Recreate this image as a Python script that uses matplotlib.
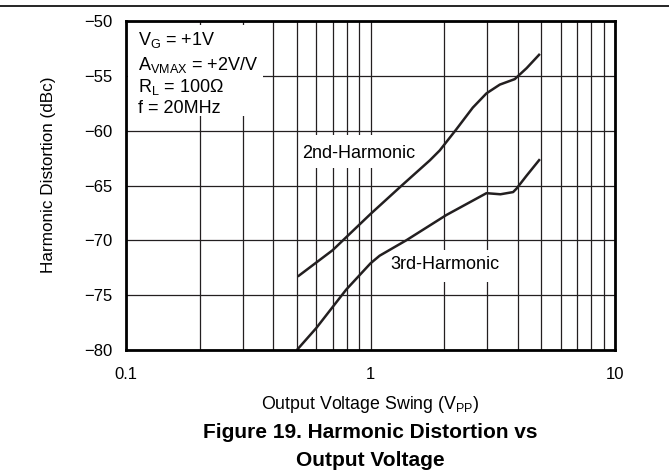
import numpy as np
import matplotlib
matplotlib.use("Agg")
import matplotlib.pyplot as plt
from matplotlib.lines import Line2D
from matplotlib.patches import Rectangle

plt.rcParams['font.family'] = ['Liberation Sans', 'DejaVu Sans']
plt.rcParams['mathtext.fontset'] = 'custom'
plt.rcParams['mathtext.rm'] = 'Liberation Sans'
plt.rcParams['mathtext.it'] = 'Liberation Sans'

# valores
vpp_2nd = [0.504, 0.70, 1.0, 1.35, 1.75, 1.92, 2.24, 2.62, 2.98, 3.38, 3.89, 4.35, 4.93]
hd_2nd = [-73.3, -70.9, -67.6, -64.95, -62.7, -61.8, -59.9, -57.9, -56.6, -55.8, -55.3, -54.3, -53.0]

vpp_3rd = [0.5, 0.6, 0.795, 1.0, 1.09, 1.40, 2.04, 2.98, 3.4, 3.83, 3.95, 4.35, 4.93]
hd_3rd = [-80.0, -78.0, -74.5, -72.1, -71.4, -70.0, -67.7, -65.7, -65.8, -65.6, -65.3, -64.1, -62.6]

xticks = [0.1, 1, 10]
xticklabels = ['0.1', '1', '10']
yticks = [-80, -75, -70, -65, -60, -55, -50]

cond_lines = ['V$_\\mathrm{G}$ = +1V',
              'A$_\\mathrm{VMAX}$ = +2V/V',
              'R$_\\mathrm{L}$ = 100\u03a9',
              'f = 20MHz']

ink = '#231f20'

fig = plt.figure(figsize=(6.69, 4.72), dpi=100)
ax = fig.add_axes([126 / 669, 122 / 472, 489 / 669, 329 / 472])

ax.plot(vpp_2nd, hd_2nd, color=ink, lw=1.8, zorder=2, solid_capstyle='butt')
ax.plot(vpp_3rd, hd_3rd, color=ink, lw=1.8, zorder=2, solid_capstyle='butt')

ax.set_xscale('log')
ax.set_xlim(0.1, 10)
ax.set_ylim(-80, -50)
ax.set_xticks(xticks)
ax.set_xticklabels(xticklabels)
ax.xaxis.set_minor_locator(matplotlib.ticker.LogLocator(base=10, subs=np.arange(2, 10)))
ax.xaxis.set_minor_formatter(matplotlib.ticker.NullFormatter())
ax.set_yticks(yticks)
ax.tick_params(which='both', length=0)
ax.tick_params(axis='x', pad=12, labelsize=12)
ax.tick_params(axis='y', pad=10, labelsize=12)

ax.set_axisbelow(True)
ax.grid(True, which='both', axis='x', color=ink, lw=0.9)
ax.grid(True, which='major', axis='y', color=ink, lw=0.9)
for s in ax.spines.values():
    s.set_linewidth(2.0)
    s.set_color('black')

ax.set_xlabel('Output Voltage Swing (V$_\\mathrm{PP}$)', fontsize=12.8, labelpad=9)
ax.set_ylabel('Harmonic Distortion (dBc)', fontsize=12.3)
ax.yaxis.set_label_coords(-0.143, 0.532)

# fondos blancos de las etiquetas
white = dict(facecolor='white', edgecolor='none', zorder=1, transform=ax.transAxes)
ax.add_patch(Rectangle((0.004, 0.711), 0.276, 0.278, **white))
ax.add_patch(Rectangle((0.362, 0.553), 0.26, 0.10, **white))
ax.add_patch(Rectangle((0.530, 0.207), 0.25, 0.097, **white))

for txt, yy in zip(cond_lines, [0.927, 0.851, 0.784, 0.720]):
    ax.text(0.025, yy, txt, transform=ax.transAxes, fontsize=13,
            va='baseline', ha='left', zorder=3)

ax.text(0.526, -62.1, '2nd-Harmonic', fontsize=13, va='center', ha='left', zorder=3)
ax.text(1.21, -72.2, '3rd-Harmonic', fontsize=13, va='center', ha='left', zorder=3)

fig.text(370 / 669, 1 - 432 / 472, 'Figure 19. Harmonic Distortion vs',
         fontsize=15, fontweight='bold', ha='center', va='center')
fig.text(370 / 669, 1 - 460 / 472, 'Output Voltage',
         fontsize=15, fontweight='bold', ha='center', va='center')

fig.add_artist(Line2D([0, 1], [1 - 6 / 472, 1 - 6 / 472], color='black', lw=1.2))

fig.savefig('out.png', dpi=100)
